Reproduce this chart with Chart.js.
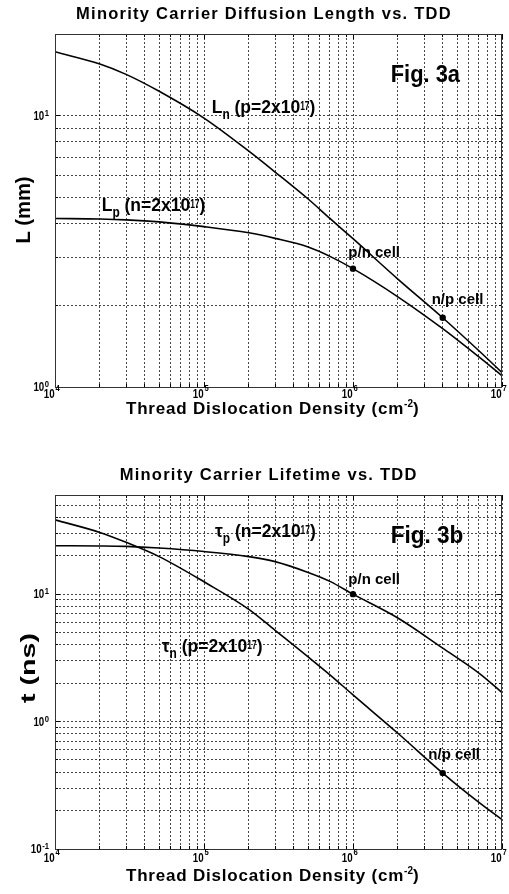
<!DOCTYPE html>
<html>
<head>
<meta charset="utf-8">
<script src="https://cdn.jsdelivr.net/npm/chart.js"></script>
<style>
  html, body { margin: 0; padding: 0; background: #fff; }
  #wrap { position: relative; width: 509px; height: 894px; overflow: hidden; }
  #lenChart { position: absolute; left: 0; top: 0; }
  #tauChart { position: absolute; left: 0; top: 440px; }
</style>
</head>
<body>
<div id="wrap">
  <canvas id="lenChart" width="509" height="440"></canvas>
  <canvas id="tauChart" width="509" height="454"></canvas>
</div>
<script>
// thread dislocation density samples (cm^-2)
const tdd = [1e4, 2e4, 3e4, 5e4, 1e5, 2e5, 3e5, 5e5, 7e5, 1e6, 2e6, 4e6, 7e6, 1e7]
// diffusion length (um)
const lengthN = [17.2, 15.5, 14.2, 12.3, 9.8, 7.4, 6.2, 4.93, 4.18, 3.52, 2.5, 1.8, 1.36, 1.13]
const lengthP = [4.18, 4.16, 4.13, 4.06, 3.9, 3.7, 3.53, 3.28, 3.03, 2.73, 2.15, 1.64, 1.29, 1.10]
// lifetime (ns)
const tauN = [38.3, 30.5, 25.5, 19.7, 12.5, 7.6, 5.2, 3.22, 2.33, 1.62, 0.81, 0.394, 0.232, 0.17]
const tauP = [24.0, 23.9, 23.7, 23.0, 21.6, 19.7, 18.0, 14.8, 12.6, 10.0, 6.5, 3.77, 2.4, 1.69]

// marked cells: p/n cell, n/p cell
const cellNames = ['p/n cell', 'n/p cell']
const cellTdd = [1e6, 4e6]
const cellLength = [2.73, 1.8]
const cellTau = [10.0, 0.394]

// axes
const xRange = [1e4, 1e7]
const xDecades = [4, 5, 6, 7]
const lenRange = [1, 20]
const lenDecades = [0, 1]
const tauRange = [0.1, 60]
const tauDecades = [-1, 0, 1]

// texts
const lenTitle = 'Minority Carrier Diffusion Length vs. TDD'
const tauTitle = 'Minority Carrier Lifetime vs. TDD'
const xTitle = ['Thread Dislocation Density (cm', '-2', ')']
const lenAxis = 'L (mm)'
const tauAxis = 't (ns)'
const lnLabel = ['L', 'n', ' (p=2x10', '17', ')']
const lpLabel = ['L', 'p', ' (n=2x10', '17', ')']
const tnLabel = ['τ', 'n', ' (p=2x10', '17', ')']
const tpLabel = ['τ', 'p', ' (n=2x10', '17', ')']

const FONT = '"Liberation Sans", Arial, Helvetica, sans-serif'
const GRID = 'rgba(0,0,0,0.72)'

function logGrid(min, max) {
  const vals = []
  for (let e = Math.floor(Math.log10(min)); e <= Math.ceil(Math.log10(max)); e++) {
    for (let m = 1; m < 10; m++) {
      const v = +(m * Math.pow(10, e)).toPrecision(3)
      if (v >= min * 0.999 && v <= max * 1.001) vals.push(v)
    }
  }
  return vals
}

// one text piece, optionally squeezed horizontally
function seg(ctx, p, x, y, draw) {
  ctx.save()
  ctx.font = p.font
  if (p.ls && 'letterSpacing' in ctx) ctx.letterSpacing = p.ls + 'px'
  const sx = p.sx || 1
  const w = ctx.measureText(p.t).width * sx
  if (draw) {
    ctx.translate(x, y + (p.dy || 0))
    ctx.scale(sx, 1)
    ctx.fillStyle = '#000'
    ctx.textAlign = 'left'
    ctx.textBaseline = 'alphabetic'
    ctx.fillText(p.t, 0, 0)
  }
  ctx.restore()
  return w
}

function pieces(ctx, list, x, y, align) {
  const ws = list.map(p => seg(ctx, p, 0, 0, false))
  const total = ws.reduce((a, b) => a + b, 0)
  let cx = align === 'center' ? x - total / 2 : align === 'right' ? x - total : x
  list.forEach((p, i) => { seg(ctx, p, cx, y, true); cx += ws[i] })
  return total
}

function fitted(ctx, t, font, w) {
  ctx.save()
  ctx.font = font
  const m = ctx.measureText(t).width
  ctx.restore()
  return { t, font, sx: w / m }
}

function curveLabel(parts) {
  const main = `bold 17.5px ${FONT}`
  return [
    { t: parts[0], font: main },
    { t: parts[1], font: `bold 14px ${FONT}`, sx: 0.85, dy: 6 },
    { t: parts[2], font: main },
    { t: parts[3], font: `bold 12px ${FONT}`, sx: 0.7, dy: -3.5 },
    { t: parts[4], font: main }
  ]
}

function makeDeco(s) {
  return {
    id: 'deco',
    afterDraw(chart) {
      const ctx = chart.ctx
      const a = chart.chartArea
      const xs = chart.scales.x
      const ys = chart.scales.y

      // inner tick marks
      ctx.save()
      ctx.strokeStyle = '#000'
      ctx.lineWidth = 1
      ctx.beginPath()
      xs.ticks.forEach(t => {
        const px = Math.floor(xs.getPixelForValue(t.value)) + 0.5
        const len = Number.isInteger(Math.log10(t.value)) ? 5 : 3
        ctx.moveTo(px, a.bottom); ctx.lineTo(px, a.bottom - len)
        ctx.moveTo(px, a.top); ctx.lineTo(px, a.top + len)
      })
      ys.ticks.forEach(t => {
        const py = Math.floor(ys.getPixelForValue(t.value)) + 0.5
        const len = Math.abs(Math.log10(t.value) - Math.round(Math.log10(t.value))) < 1e-6 ? 5 : 3
        ctx.moveTo(a.left, py); ctx.lineTo(a.left + len, py)
        ctx.moveTo(a.right, py); ctx.lineTo(a.right - len, py)
      })
      ctx.stroke()
      // frame
      ctx.strokeStyle = '#333'
      ctx.strokeRect(Math.floor(a.left) + 0.5, Math.floor(a.top) + 0.5,
        Math.round(a.right - a.left) - 1, Math.round(a.bottom - a.top))
      ctx.restore()

      // tick labels 10^e
      const ten = { t: '10', font: `bold 12.5px ${FONT}`, sx: 0.78 }
      const sup = e => ({ t: String(e), font: `bold 9px ${FONT}`, sx: 0.85 })
      xDecades.forEach(e => {
        const px = xs.getPixelForValue(Math.pow(10, e))
        const by = a.bottom + s.tickDy
        pieces(ctx, [ten], px - 0.3, by, 'right')
        pieces(ctx, [sup(e)], px + 0.5, by - 6.8, 'left')
      })
      s.yDecades.forEach(e => {
        const py = ys.getPixelForValue(Math.pow(10, e))
        const sw = seg(ctx, sup(e), 0, 0, false)
        pieces(ctx, [ten], 49 - sw - 0.5, py + 4.3, 'right')
        pieces(ctx, [sup(e)], 49 - sw, py, 'left')
      })

      // titles
      pieces(ctx, [{ t: s.title, font: `bold 16.5px ${FONT}`, ls: 1.25 }], s.titleX, s.titleY, 'center')
      const xt = `bold 17px ${FONT}`
      pieces(ctx, [
        { t: xTitle[0], font: xt, ls: 0.8 },
        { t: xTitle[1], font: `bold 10px ${FONT}`, dy: -7 },
        { t: xTitle[2], font: xt }
      ], 272.3, s.xTitleY, 'center')
      ctx.save()
      ctx.translate(s.yTitleX, s.yTitleY)
      ctx.rotate(-Math.PI / 2)
      pieces(ctx, [fitted(ctx, s.yTitle, `bold 21px ${FONT}`, s.yTitleLen)], 0, 0, 'center')
      ctx.restore()

      // figure tag
      pieces(ctx, [fitted(ctx, s.fig, `bold 23px ${FONT}`, s.figW)], s.figX, s.figY, 'left')

      // curve labels
      s.curves.forEach(c => pieces(ctx, curveLabel(c.parts), c.x, c.y, 'left'))

      // cell labels
      s.cells.forEach((c, i) => pieces(ctx, [{ t: cellNames[i], font: `bold 15px ${FONT}` }], c.x, c.y, 'left'))
    }
  }
}

function lineSet(yv) {
  return {
    data: tdd.map((x, i) => ({ x, y: yv[i] })),
    showLine: true,
    borderColor: '#000',
    borderWidth: 1.6,
    pointRadius: 0,
    cubicInterpolationMode: 'monotone',
    fill: false
  }
}

function cellSet(yv) {
  return {
    data: cellTdd.map((x, i) => ({ x, y: yv[i] })),
    showLine: false,
    pointRadius: 3.2,
    pointBackgroundColor: '#000',
    pointBorderColor: '#000',
    pointBorderWidth: 0
  }
}

function axis(range, fitFn) {
  return {
    type: 'logarithmic',
    min: range[0],
    max: range[1],
    ticks: { display: false },
    grid: { color: GRID, lineWidth: 1, drawTicks: false },
    border: { display: false, dash: [2, 2] },
    afterBuildTicks: sc => { sc.ticks = logGrid(range[0], range[1]).map(v => ({ value: v })) },
    afterFit: fitFn
  }
}

function makeChart(id, yv1, yv2, cells, yRange, s) {
  return new Chart(document.getElementById(id), {
    type: 'scatter',
    data: { datasets: [lineSet(yv1), lineSet(yv2), cellSet(cells)] },
    options: {
      responsive: false,
      animation: false,
      events: [],
      layout: { padding: { top: s.top, right: 7, left: 0, bottom: 0 } },
      plugins: { legend: { display: false }, tooltip: { enabled: false } },
      scales: {
        x: axis(xRange, sc => { sc.height = s.xh }),
        y: axis(yRange, sc => { sc.width = 55 })
      }
    },
    plugins: [makeDeco(s)]
  })
}

makeChart('lenChart', lengthN, lengthP, cellLength, lenRange, {
  top: 34, xh: 53, tickDy: 10.5, yDecades: lenDecades,
  title: lenTitle, titleX: 264, titleY: 19.3, xTitleY: 414,
  yTitle: lenAxis, yTitleX: 29.5, yTitleY: 210, yTitleLen: 67,
  fig: 'Fig. 3a', figX: 390.7, figY: 81.7, figW: 69.3,
  curves: [{ parts: lnLabel, x: 211.7, y: 113 }, { parts: lpLabel, x: 101.7, y: 211 }],
  cells: [{ x: 348.3, y: 256.7 }, { x: 431.7, y: 304 }]
})

makeChart('tauChart', tauN, tauP, cellTau, tauRange, {
  top: 55, xh: 45, tickDy: 13, yDecades: tauDecades,
  title: tauTitle, titleX: 268.7, titleY: 40, xTitleY: 441,
  yTitle: tauAxis, yTitleX: 34.5, yTitleY: 228, yTitleLen: 70,
  fig: 'Fig. 3b', figX: 390.7, figY: 102.7, figW: 72.7,
  curves: [{ parts: tpLabel, x: 215, y: 97 }, { parts: tnLabel, x: 161.7, y: 212 }],
  cells: [{ x: 348.3, y: 144 }, { x: 428.3, y: 319 }]
})
</script>
</body>
</html>
